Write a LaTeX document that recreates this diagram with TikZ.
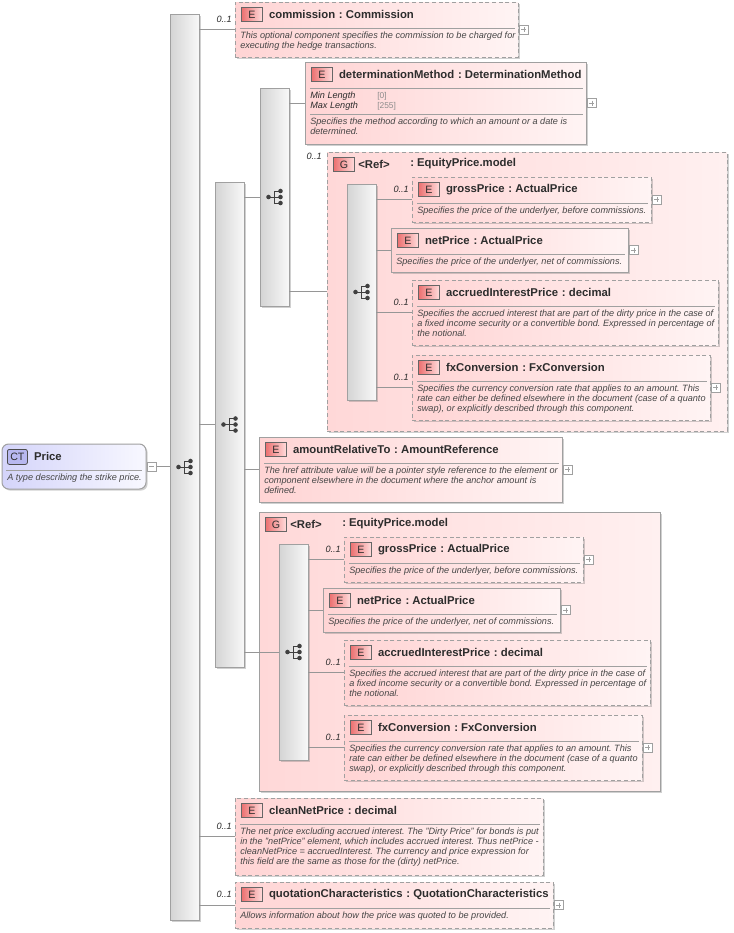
\documentclass[tikz,border=0pt]{standalone}
\usepackage{fontspec}
\setmainfont{Liberation Sans}
\usepackage{tikz}
\usetikzlibrary{positioning,shadows,calc}
\frenchspacing

\definecolor{boxline}{RGB}{160,160,160}
\definecolor{wirecol}{RGB}{150,150,150}
\definecolor{elemL}{RGB}{255,212,212}
\definecolor{elemR}{RGB}{255,244,244}
\definecolor{grpL}{RGB}{255,216,216}
\definecolor{grpR}{RGB}{255,240,240}
\definecolor{barL}{RGB}{212,212,212}
\definecolor{barR}{RGB}{248,248,248}
\definecolor{ctL}{RGB}{212,212,250}
\definecolor{ctR}{RGB}{248,248,255}
\definecolor{ctB}{RGB}{184,184,240}
\definecolor{badgeL}{RGB}{236,112,112}
\definecolor{badgeR}{RGB}{255,220,220}
\definecolor{ink}{RGB}{45,45,45}
\definecolor{note}{RGB}{70,70,70}
\definecolor{facetval}{RGB}{140,140,140}

\tikzset{
    elembox/.style={draw=boxline, line width=0.75pt, left color=elemL, right color=elemR,
        inner sep=0pt, outer sep=0pt,
        drop shadow={shadow xshift=1.2pt, shadow yshift=-1.2pt, opacity=.3, fill=black!60}},
    grpbox/.style={elembox, left color=grpL, right color=grpR},
    optional/.style={dash pattern=on 3pt off 2pt},
    seqbar/.style={draw=boxline, line width=0.75pt, left color=barL, right color=barR,
        minimum width=29*0.75pt, inner sep=0pt, outer sep=0pt,
        drop shadow={shadow xshift=1.2pt, shadow yshift=-1.2pt, opacity=.3, fill=black!60}},
    ctbox/.style={draw=boxline, line width=0.75pt, rounded corners=5pt, left color=ctL, right color=ctR,
        inner sep=0pt, outer sep=0pt,
        drop shadow={shadow xshift=1.2pt, shadow yshift=-1.2pt, opacity=.3, fill=black!60}},
    badge/.style={draw=black!60, line width=0.6pt, left color=badgeL, right color=badgeR,
        minimum width=21*0.75pt, minimum height=14*0.75pt, inner sep=0pt,
        font=\fontsize{8}{8}\selectfont, text=ink},
    ctbadge/.style={draw=black!70, line width=0.6pt, rounded corners=1.5pt, fill=ctB,
        minimum width=20*0.75pt, minimum height=15*0.75pt, inner sep=0pt,
        font=\fontsize{8}{8}\selectfont, text=ink},
    eltitle/.style={font=\bfseries\fontsize{8.5}{10}\selectfont, text=ink, inner sep=0pt},
    eldesc/.style={font=\itshape\fontsize{6.85}{7.5}\selectfont, text=note, align=left, inner sep=0pt},
    facet/.style={font=\itshape\fontsize{6.85}{7.5}\selectfont, text=ink, align=left, inner sep=0pt},
    facetval/.style={font=\fontsize{6.3}{7.5}\selectfont, text=facetval, align=left, inner sep=0pt},
    card/.style={font=\itshape\fontsize{6.85}{7.5}\selectfont, text=ink, inner sep=0pt},
    wire/.style={draw=wirecol, line width=0.75pt},
    divider/.style={draw=boxline, line width=0.75pt},
    expander/.style={draw=boxline, fill=white, minimum size=9*0.75pt, inner sep=0pt, line width=0.5pt},
    expandplus/.style={expander, path picture={
        \draw[boxline, line width=0.5pt]
            ([xshift=1.5pt]path picture bounding box.west) -- ([xshift=-1.5pt]path picture bounding box.east)
            ([yshift=-1.5pt]path picture bounding box.north) -- ([yshift=1.5pt]path picture bounding box.south);}},
    expandminus/.style={expander, path picture={
        \draw[boxline, line width=0.5pt]
            ([xshift=1.5pt]path picture bounding box.west) -- ([xshift=-1.5pt]path picture bounding box.east);}},
    seqicon/.pic={
        \draw[black!75, line width=0.75pt] (-6,0) -- (-0.5,0) (-0.5,-6) -- (-0.5,6)
            (-0.5,-6) -- (6,-6) (-0.5,0) -- (6,0) (-0.5,6) -- (6,6);
        \fill[black!75] (-6,0) circle[radius=1.7pt] (6,-6) circle[radius=1.7pt]
            (6,0) circle[radius=1.7pt] (6,6) circle[radius=1.7pt];
    },
}

% box of one element: name, x, y, width, height, style, title, description
\newcommand{\elembox}[8]{%
    \node[elembox,#6,minimum width=#4*0.75pt,minimum height=#5*0.75pt,anchor=north west] (#1) at (#2,#3) {};
    \node[badge,anchor=north west] (#1-e) at ([shift={(6,5)}]#1.north west) {E};
    \node[eltitle,anchor=west] (#1-t) at ([shift={(6,0)}]#1-e.east) {#7};
    \draw[divider] ([shift={(5,26)}]#1.north west) -- ([shift={(-3,26)}]#1.north east);
    \node[eldesc,anchor=north west] (#1-d) at ([shift={(5,30)}]#1.north west) {#8};
}
\newcommand{\seqline}[4]{%
    \node[seqbar,minimum height=#4*0.75pt,anchor=north west] (#1) at (#2,#3) {};
    \pic at (#1.center) {seqicon};
}
\newcommand{\plusbox}[1]{\node[expandplus,anchor=west] (#1-x) at ([shift={(1,0)}]#1.east) {};}
\newcommand{\optcard}[1]{\node[card,anchor=south east] (#1-c) at ([shift={(-3,-7)}]#1.west) {0..1};}
% the EquityPrice.model group: prefix, x, y, width, style
\newcommand{\equitymodel}[5]{%
    \node[grpbox,#5,minimum width=#4*0.75pt,minimum height=279*0.75pt,anchor=north west] (#1-box) at (#2,#3) {};
    \node[badge,anchor=north west] (#1-g) at ([shift={(6,5)}]#1-box.north west) {G};
    \node[eltitle,anchor=west] (#1-ref) at (#2+31,#3+12) {<Ref>};
    \node[eltitle,anchor=west] (#1-type) at (#2+83,#3+12) {: EquityPrice.model};
    \seqline{#1-seq}{#2+20}{#3+32}{216}
    \elembox{#1-gross}{#2+85}{#3+25}{239}{45}{optional}{grossPrice\,\,: ActualPrice}
        {Specifies the price of the underlyer, before commissions.}
    \elembox{#1-net}{#2+64}{#3+76}{237}{44}{solid}{netPrice\,\,: ActualPrice}
        {Specifies the price of the underlyer, net of commissions.}
    \elembox{#1-accr}{#2+85}{#3+128}{306}{65}{optional}{accruedInterestPrice\,\,: decimal}
        {Specifies the accrued interest that are part of the dirty price in the case of\\
         a fixed income security or a convertible bond. Expressed in percentage of\\
         the notional.}
    \elembox{#1-fx}{#2+85}{#3+203}{298}{65}{optional}{fxConversion\,\,: FxConversion}
        {Specifies the currency conversion rate that applies to an amount. This\\
         rate can either be defined elsewhere in the document (case of a quanto\\
         swap), or explicitly described through this component.}
    \plusbox{#1-gross}\plusbox{#1-net}\plusbox{#1-fx}
    \foreach \n in {gross,net,accr,fx}
        \draw[wire] (#1-seq.east |- #1-\n.west) -- (#1-\n.west);
    \optcard{#1-gross}\optcard{#1-accr}\optcard{#1-fx}
}

\begin{document}
\begin{tikzpicture}[x=0.75pt,y=-0.75pt]
    \fill[white] (0,0) rectangle (733,933);
    \useasboundingbox (0,0) rectangle (733,933);

    % complex type
    \node[ctbox,minimum width=144*0.75pt,minimum height=45*0.75pt,anchor=north west] (price) at (2,444) {};
    \node[ctbadge,anchor=north west] (price-ct) at ([shift={(5,5)}]price.north west) {CT};
    \node[eltitle,anchor=west] (price-t) at ([shift={(6,0)}]price-ct.east) {Price};
    \draw[divider] ([shift={(4,26)}]price.north west) -- ([shift={(-4,26)}]price.north east);
    \node[eldesc,anchor=north west] (price-d) at ([shift={(5,30)}]price.north west) {A type describing the strike price.};
    \node[expandminus,anchor=west] (price-x) at ([shift={(1,0)}]price.east) {};

    % sequences
    \seqline{mainseq}{170}{14}{906}
    \seqline{midseq}{215}{182}{485}
    \seqline{innerseq}{260}{88}{218}

    % elements
    \elembox{commission}{235}{2}{283}{55}{optional}{commission\,\,: Commission}
        {This optional component specifies the commission to be charged for\\
         executing the hedge transactions.}
    \node[elembox,minimum width=281*0.75pt,minimum height=82*0.75pt,anchor=north west] (detmethod) at (305,62) {};
    \node[badge,anchor=north west] (detmethod-e) at ([shift={(6,5)}]detmethod.north west) {E};
    \node[eltitle,anchor=west] (detmethod-t) at ([shift={(6,0)}]detmethod-e.east) {determinationMethod\,\,: DeterminationMethod};
    \draw[divider] ([shift={(5,26)}]detmethod.north west) -- ([shift={(-3,26)}]detmethod.north east);
    \node[facet,anchor=north west] (detmethod-f) at ([shift={(5,30)}]detmethod.north west) {Min Length\\Max Length};
    \node[facetval,anchor=north west] (detmethod-v) at ([shift={(72,30)}]detmethod.north west) {[0]\\{}[255]};
    \draw[divider] ([shift={(5,52)}]detmethod.north west) -- ([shift={(-3,52)}]detmethod.north east);
    \node[eldesc,anchor=north west] (detmethod-d) at ([shift={(5,56)}]detmethod.north west)
        {Specifies the method according to which an amount or a date is\\determined.};
    \equitymodel{grpA}{327}{152}{400}{optional}
    \elembox{amountrel}{259}{437}{303}{65}{solid}{amountRelativeTo\,\,: AmountReference}
        {The href attribute value will be a pointer style reference to the element or\\
         component elsewhere in the document where the anchor amount is\\
         defined.}
    \equitymodel{grpB}{259}{512}{401}{solid}
    \elembox{cleannet}{235}{798}{308}{77}{optional}{cleanNetPrice\,\,: decimal}
        {The net price excluding accrued interest. The "Dirty Price" for bonds is put\\
         in the "netPrice" element, which includes accrued interest. Thus netPrice -\\
         cleanNetPrice = accruedInterest. The currency and price expression for\\
         this field are the same as those for the (dirty) netPrice.}
    \elembox{quotation}{235}{882}{318}{46}{optional}{quotationCharacteristics\,\,: QuotationCharacteristics}
        {Allows information about how the price was quoted to be provided.}
    \plusbox{commission}\plusbox{detmethod}\plusbox{amountrel}\plusbox{quotation}

    % connectors
    \draw[wire] (price-x.east) -- (price-x.east -| mainseq.west);
    \foreach \n in {commission,midseq,cleannet,quotation}
        \draw[wire] (mainseq.east |- \n.west) -- (\n.west);
    \foreach \n in {innerseq,amountrel,grpB-seq}
        \draw[wire] (midseq.east |- \n.west) -- (\n.west);
    \foreach \n in {detmethod,grpA-box}
        \draw[wire] (innerseq.east |- \n.west) -- (\n.west);
    \optcard{commission}\optcard{cleannet}\optcard{quotation}
    \node[card,anchor=north east] (grpA-c) at ([shift={(-5,1)}]grpA-box.north west) {0..1};
\end{tikzpicture}
\end{document}
